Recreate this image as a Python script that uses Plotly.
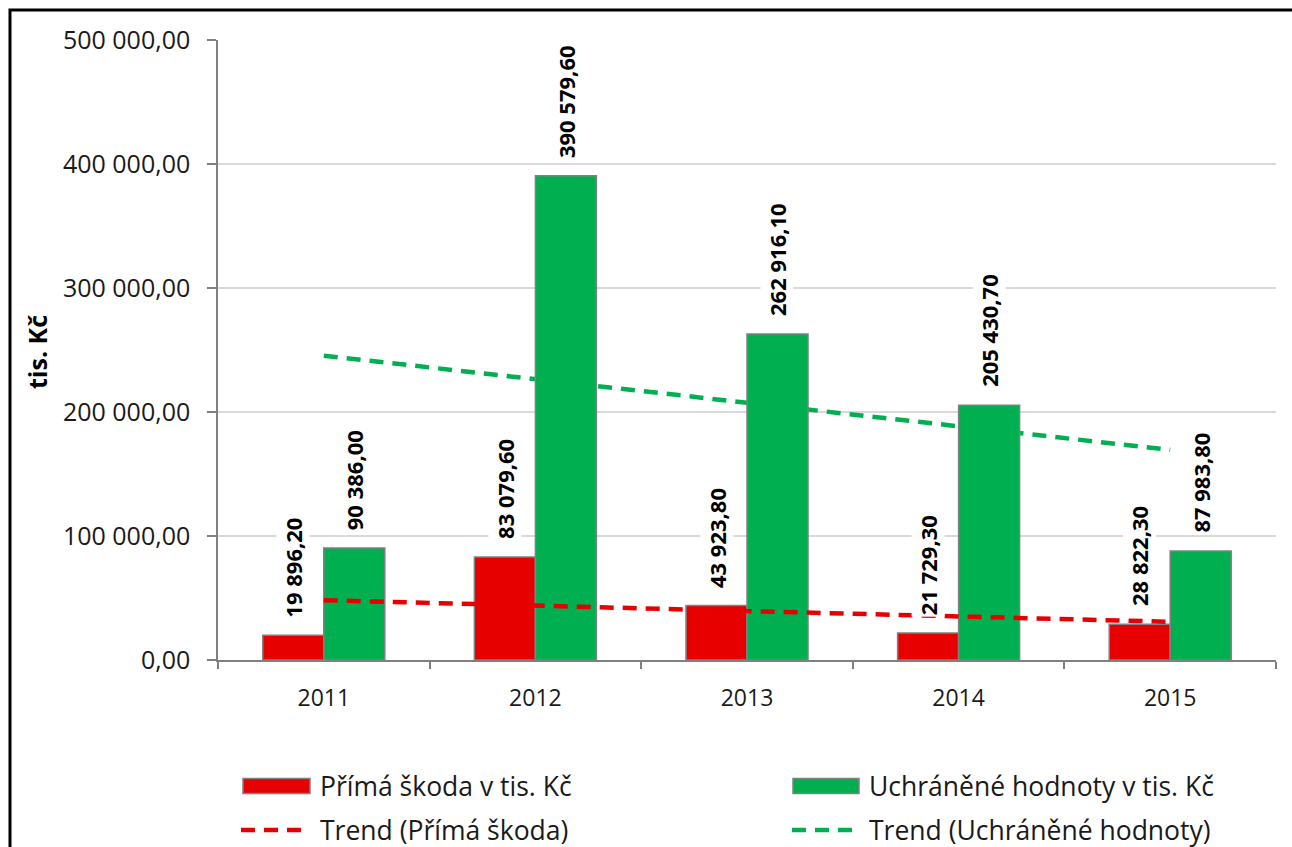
import numpy as np
import plotly.graph_objects as go

# ---- data ----
years = ["2011", "2012", "2013", "2014", "2015"]
prima_skoda = [19896.20, 83079.60, 43923.80, 21729.30, 28822.30]
uchranene = [90386.00, 390579.60, 262916.10, 205430.70, 87983.80]
y_ticks = [0, 100000, 200000, 300000, 400000, 500000]

name_skoda = "Přímá škoda v tis. Kč"
name_uchr = "Uchráněné hodnoty v tis. Kč"
name_tr_skoda = "Trend (Přímá škoda)"
name_tr_uchr = "Trend (Uchráněné hodnoty)"

RED = "#e60000"
GREEN = "#00b050"
EDGE = "#808080"
GRID = "#d9d9d9"
TXT = "#1a1a1a"
FONT = "Open Sans"

# plot-area geometry in pixels (used to place legend / frame elements)
W, H = 1292, 847
L, R, T, B = 218, 1276, 40, 660
BARGAP = 0.4234


def px(x):
    return (x - L) / (R - L)


def py(y):
    return (B - y) / (B - T)


def cz(v):
    """Czech number format: space thousands separator, decimal comma."""
    return f"{v:,.2f}".replace(",", " ").replace(".", ",")


def trend(vals):
    """Linear least-squares trend over the category index (1..n)."""
    idx = np.arange(1, len(vals) + 1)
    k, q = np.polyfit(idx, vals, 1)
    return [float(v) for v in k * idx + q]


fig = go.Figure()

# green trend sits behind the bars (main axes)
fig.add_trace(go.Scatter(
    x=years, y=trend(uchranene), mode="lines", name=name_tr_uchr,
    line=dict(color=GREEN, width=4.5, dash="14px,9px"),
    xaxis="x", yaxis="y", showlegend=False, hoverinfo="skip"))

# bars on the overlay axes so they cover the green trend
fig.add_trace(go.Bar(
    x=years, y=prima_skoda, name=name_skoda,
    marker=dict(color=RED, line=dict(color=EDGE, width=1.5)),
    xaxis="x2", yaxis="y2", showlegend=False))
fig.add_trace(go.Bar(
    x=years, y=uchranene, name=name_uchr,
    marker=dict(color=GREEN, line=dict(color=EDGE, width=1.5)),
    xaxis="x2", yaxis="y2", showlegend=False))

# red trend drawn over the bars
fig.add_trace(go.Scatter(
    x=years, y=trend(prima_skoda), mode="lines", name=name_tr_skoda,
    line=dict(color=RED, width=4.5, dash="14px,9px"),
    xaxis="x2", yaxis="y2", showlegend=False, hoverinfo="skip"))

# rotated value labels above each bar (x given as category index)
half_bar = float((R - L) / len(years) * (1 - BARGAP) / 4)
label_font = dict(family=FONT, size=22, color="black", weight="bold")
annotations = []
for series, shift in ((prima_skoda, -half_bar), (uchranene, half_bar)):
    for i, v in enumerate(series):
        annotations.append(dict(
            x=i, y=v, xref="x", yref="y", text=cz(v), showarrow=False,
            textangle=-90, xanchor="center", yanchor="bottom",
            xshift=shift, yshift=16, bgcolor="white", borderpad=1,
            font=label_font))

# y-axis title
annotations.append(dict(
    x=px(37), y=py(352), xref="paper", yref="paper", text="tis. Kč",
    showarrow=False, textangle=-90, xanchor="center", yanchor="middle",
    font=dict(family=FONT, size=25, color="black", weight="bold")))

# legend, laid out in two columns
shapes = []
legend_rows = [
    (243, 310, 318, name_skoda, RED, "bar", 786),
    (793, 859, 867, name_uchr, GREEN, "bar", 786),
    (241, 305, 318, name_tr_skoda, RED, "line", 830),
    (792, 855, 867, name_tr_uchr, GREEN, "line", 830),
]
for x0, x1, xt, label, col, kind, yc in legend_rows:
    if kind == "bar":
        shapes.append(dict(
            type="rect", xref="paper", yref="paper",
            x0=px(x0), x1=px(x1), y0=py(yc + 7.5), y1=py(yc - 7.5),
            fillcolor=col, line=dict(color=EDGE, width=1.5)))
    else:
        shapes.append(dict(
            type="line", xref="paper", yref="paper",
            x0=px(x0), x1=px(x1), y0=py(yc), y1=py(yc),
            line=dict(color=col, width=4.5, dash="14px,9px")))
    annotations.append(dict(
        x=px(xt), y=py(yc), xref="paper", yref="paper", text=label,
        showarrow=False, xanchor="left", yanchor="middle",
        font=dict(family=FONT, size=26.5, color=TXT)))

# chart frame (left and top edges)
shapes.append(dict(
    type="path", xref="paper", yref="paper",
    path=f"M {px(10)},{py(900)} L {px(10)},{py(10)} L {px(1300)},{py(10)}",
    line=dict(color="black", width=3)))

fig.update_layout(
    width=W, height=H,
    margin=dict(l=L, r=W - R, t=T, b=H - B, pad=0),
    paper_bgcolor="white", plot_bgcolor="white",
    barmode="group", bargap=BARGAP, bargroupgap=0,
    font=dict(family=FONT, color=TXT),
    xaxis=dict(
        type="category", categoryorder="array", categoryarray=years,
        range=[-0.5, len(years) - 0.5],
        showline=True, linecolor=EDGE, linewidth=1.5,
        ticks="outside", tickson="boundaries", ticklen=7,
        tickcolor=EDGE, tickwidth=1.5, showgrid=False,
        tickfont=dict(family=FONT, size=23, color=TXT),
        ticklabelstandoff=17),
    yaxis=dict(
        range=[0, 500000], tickvals=y_ticks,
        ticktext=[cz(v) for v in y_ticks],
        showline=True, linecolor=EDGE, linewidth=1.5,
        ticks="outside", ticklen=9, tickcolor=EDGE, tickwidth=1.5,
        showgrid=True, gridcolor=GRID, gridwidth=1.5, zeroline=False,
        tickfont=dict(family=FONT, size=25, color=TXT),
        ticklabelstandoff=12),
    xaxis2=dict(
        type="category", categoryorder="array", categoryarray=years,
        overlaying="x", matches="x", visible=False,
        range=[-0.5, len(years) - 0.5]),
    yaxis2=dict(
        overlaying="y", matches="y", visible=False, range=[0, 500000]),
    shapes=shapes, annotations=annotations,
)

fig.write_html("out.html")
